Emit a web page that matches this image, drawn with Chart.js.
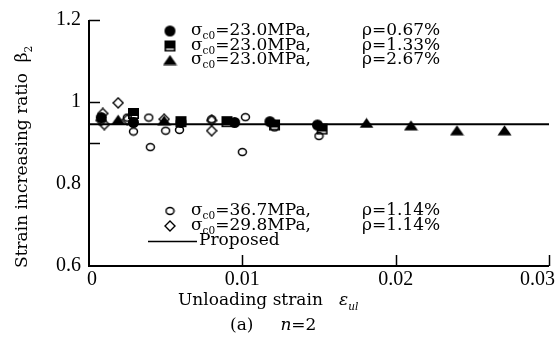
<!DOCTYPE html>
<html>
<head>
<meta charset="utf-8">
<script src="https://cdn.jsdelivr.net/npm/chart.js@4"></script>
<style>
  html, body { margin: 0; padding: 0; background: #fff; }
  #wrap { position: relative; width: 556px; height: 354px; }
</style>
</head>
<body>
<div id="wrap"><canvas id="c" width="556" height="354"></canvas></div>
<script>
var xTicks = [0, 0.01, 0.02, 0.03];
var yTicks = [0.6, 0.8, 1, 1.2];
var yMarks = [1.2, 1, 0.9];   // the little inward ticks on the y axis
var xMarks = [0.01, 0.02, 0.03];

var c67x  = [0.0008, 0.0029, 0.0060, 0.0095, 0.0118, 0.0149];
var c67y  = [0.962, 0.950, 0.950, 0.950, 0.952, 0.944];
var c133x = [0.0029, 0.0060, 0.0090, 0.0121, 0.0152];
var c133y = [0.972, 0.952, 0.952, 0.944, 0.934];
var c267x = [0.0019, 0.0049, 0.0181, 0.0210, 0.0240, 0.0271];
var c267y = [0.957, 0.955, 0.949, 0.943, 0.931, 0.931];
var s367x = [0.0008, 0.0025, 0.0029, 0.0039, 0.0040, 0.0050, 0.0059, 0.0080, 0.0102, 0.0100, 0.0121, 0.0150];
var s367y = [0.962, 0.962, 0.928, 0.962, 0.890, 0.930, 0.932, 0.958, 0.963, 0.878, 0.938, 0.917];
var s298x = [0.0009, 0.0019, 0.0010, 0.0008, 0.0025, 0.0049, 0.0080, 0.0080];
var s298y = [0.972, 0.998, 0.945, 0.955, 0.957, 0.958, 0.955, 0.930];
var propX = [0, 0.03];
var propY = [0.946, 0.946];

function pts(xs, ys) {
  var out = [];
  for (var i = 0; i < xs.length; i++) out.push({ x: xs[i], y: ys[i] });
  return out;
}

// marker bitmaps, chart.js takes a canvas as pointStyle
function mk(w, h, draw) {
  var cv = document.createElement("canvas");
  cv.width = w; cv.height = h;
  var g = cv.getContext("2d");
  g.fillStyle = "#000"; g.strokeStyle = "#000"; g.lineWidth = 1.6;
  draw(g, w, h);
  return cv;
}
var mDot = mk(13, 13, function(g) { g.beginPath(); g.arc(6.5, 6.5, 5.5, 0, Math.PI*2); g.fill(); });
var mSq  = mk(13, 13, function(g) {
  g.fillRect(1, 1, 11, 8);
  g.strokeRect(1.8, 1.8, 9.4, 9.4);
});
var mTri = mk(15, 11, function(g) {
  g.beginPath(); g.moveTo(7.5, 0.5); g.lineTo(14.5, 10.5); g.lineTo(0.5, 10.5); g.closePath(); g.fill();
});
var mCirc = mk(11, 10, function(g) {
  g.lineWidth = 1.5; g.beginPath(); g.ellipse(5.5, 5, 4, 3.4, 0, 0, Math.PI*2); g.stroke();
});
var mDia = mk(12, 12, function(g) {
  g.lineWidth = 1.4; g.beginPath();
  g.moveTo(6, 1); g.lineTo(11, 6); g.lineTo(6, 11); g.lineTo(1, 6); g.closePath(); g.stroke();
});

var SERIF = "'Liberation Serif', serif";
var WIDE  = "'DejaVu Serif', serif";   // closer to the wide bitmap look of the original

function ds(data, style) {
  return { data: data, showLine: false, pointStyle: style, pointRadius: 6, pointHoverRadius: 6 };
}

// draws a text run with subscripts: parts = [[text, sub?, italic?], ...]
function runs(g, x, y, parts, size, fam) {
  for (var i = 0; i < parts.length; i++) {
    var p = parts[i];
    var sz = p[1] ? size * 0.62 : size;
    g.font = (p[2] ? "italic " : "") + sz + "px " + (fam || WIDE);
    g.fillText(p[0], x, p[1] ? y + size * 0.3 : y);
    x += g.measureText(p[0]).width;
  }
  return x;
}

var decor = {
  id: "decor",
  afterDraw: function(ch) {
    var g = ch.ctx, xs = ch.scales.x, ys = ch.scales.y, a = ch.chartArea;
    g.save();
    g.strokeStyle = "#000"; g.fillStyle = "#000"; g.lineWidth = 2;
    // axes
    g.beginPath();
    g.moveTo(a.left, a.top); g.lineTo(a.left, a.bottom); g.lineTo(a.right, a.bottom);
    g.stroke();
    g.lineWidth = 1.5;
    yMarks.forEach(function(v) {
      var py = Math.round(ys.getPixelForValue(v)) + 0.5;
      g.beginPath(); g.moveTo(a.left, py); g.lineTo(a.left + 11, py); g.stroke();
    });
    xMarks.forEach(function(v) {
      var px = Math.round(xs.getPixelForValue(v)) + 0.5;
      g.beginPath(); g.moveTo(px, a.bottom); g.lineTo(px, a.bottom - 11); g.stroke();
    });

    // tick labels drawn here so the axis can run right to the edge
    g.font = "20px " + SERIF;
    g.textBaseline = "middle";
    g.textAlign = "right";
    yTicks.forEach(function(v) { g.fillText(String(v), a.left - 8, ys.getPixelForValue(v)); });
    g.textBaseline = "top";
    xTicks.forEach(function(v) {
      var px = xs.getPixelForValue(v);
      if (v === xTicks[xTicks.length - 1]) {   // last one is pushed in against the edge
        g.textAlign = "right"; g.fillText(String(v), 555, a.bottom + 4);
      } else {
        g.textAlign = "center"; g.fillText(String(v), v === 0 ? px + 3 : px, a.bottom + 4);
      }
    });
    g.textAlign = "left";

    g.textBaseline = "middle";
    var rows = [[mDot, "23.0", "0.67%", 31], [mSq, "23.0", "1.33%", 46], [mTri, "23.0", "2.67%", 60],
                [mCirc, "36.7", "1.14%", 211], [mDia, "29.8", "1.14%", 226]];
    rows.forEach(function(r) {
      g.drawImage(r[0], 170 - r[0].width / 2, r[3] - r[0].height / 2);
      runs(g, 191, r[3], [["σ", false], ["c0", true], ["=" + r[1] + "MPa,", false]], 17);
      runs(g, 362, r[3], [["ρ", false], ["=" + r[2], false]], 17);
    });
    g.lineWidth = 1.5;
    g.beginPath(); g.moveTo(148, 241.5); g.lineTo(197, 241.5); g.stroke();
    runs(g, 199, 241, [["Proposed", false]], 17);

    // axis titles
    g.textBaseline = "alphabetic";
    runs(g, 178, 305, [["Unloading strain   ", false], ["ε", false, true], ["ul", true, true]], 17);
    runs(g, 230, 330, [["(a)     ", false], ["n", false, true], ["=2", false]], 17);

    g.translate(27, 268); g.rotate(-Math.PI / 2);
    runs(g, 0, 0, [["Strain increasing ratio  ", false], ["β", false], ["2", true]], 17);
    g.restore();
  }
};

new Chart(document.getElementById("c"), {
  type: "scatter",
  data: {
    datasets: [
      ds(pts(s298x, s298y), mDia),
      ds(pts(s367x, s367y), mCirc),
      ds(pts(c267x, c267y), mTri),
      ds(pts(c133x, c133y), mSq),
      ds(pts(c67x, c67y), mDot),
      { data: pts(propX, propY), showLine: true, borderColor: "#000", borderWidth: 2, pointRadius: 0 }
    ]
  },
  plugins: [decor],
  options: {
    responsive: false,
    animation: false,
    layout: { padding: { top: 20, right: 7, left: 0, bottom: 0 } },
    plugins: { legend: { display: false }, tooltip: { enabled: false } },
    scales: {
      x: {
        type: "linear", min: 0, max: 0.03,
        afterBuildTicks: function(s) { s.ticks = xTicks.map(function(v) { return { value: v }; }); },
        afterFit: function(s) { s.height = 88; },
        border: { display: false },
        grid: { display: false, drawTicks: false },
        ticks: { display: false }
      },
      y: {
        type: "linear", min: 0.6, max: 1.2,
        afterBuildTicks: function(s) { s.ticks = yTicks.map(function(v) { return { value: v }; }); },
        afterFit: function(s) { s.width = 89; },
        border: { display: false },
        grid: { display: false, drawTicks: false },
        ticks: { display: false }
      }
    }
  }
});
</script>
</body>
</html>
